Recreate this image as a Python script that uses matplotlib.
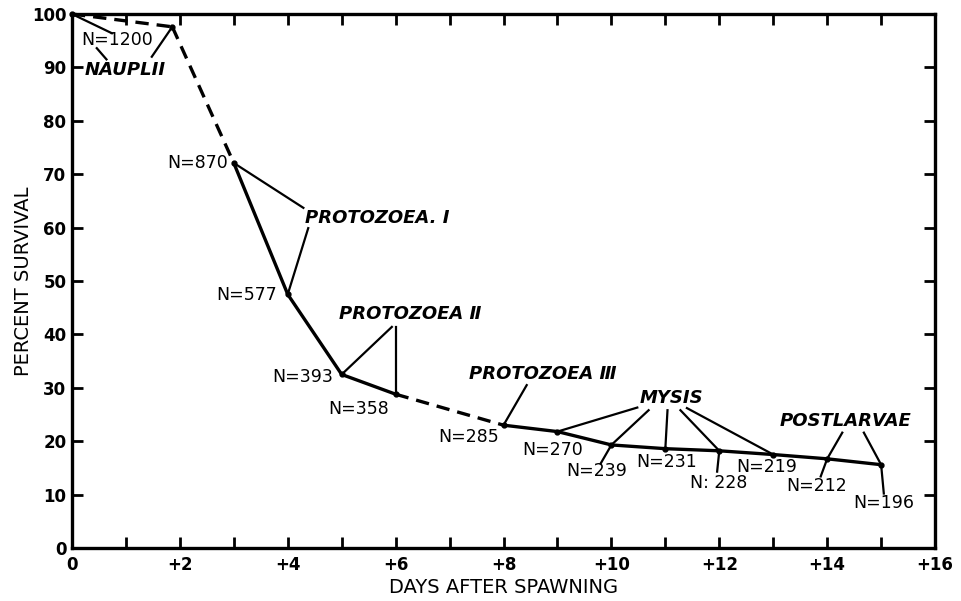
"""Percent survival of shrimp larvae by days after spawning, with stage labels."""
import matplotlib

matplotlib.use("Agg")
import matplotlib.pyplot as plt

# survival curve
days = [0, 1.86, 3, 4, 5, 6, 8, 9, 10, 11, 12, 13, 14, 15]
survival = [100, 97.6, 72.1, 47.5, 32.5, 28.8, 23.0, 21.8, 19.3, 18.6, 18.2, 17.5, 16.7, 15.6]
n_labels = ["N=1200", None, "N=870", "N=577", "N=393", "N=358", "N=285", "N=270",
            "N=239", "N=231", "N: 228", "N=219", "N=212", "N=196"]
stages = ["NAUPLII", "PROTOZOEA. \u2160", "PROTOZOEA \u2161", "PROTOZOEA \u2162",
          "MYSIS", "POSTLARVAE"]
x_ticks = list(range(0, 17))
x_ticklabels = ["0" if d == 0 else (f"+{d}" if d % 2 == 0 else "") for d in x_ticks]
y_ticks = list(range(0, 101, 10))

# segments drawn dashed (interval index i joins point i and i+1)
DASHED = {0, 1, 5}

# label placement: (x, y, ha) in data units
N_POS = [(0.84, 95.2, "center"), None, (2.9, 72.1, "right"), (3.8, 47.4, "right"),
         (4.85, 32.1, "right"), (5.31, 26.1, "center"), (7.35, 20.7, "center"),
         (8.91, 18.4, "center"), (9.72, 14.5, "center"), (11.02, 16.1, "center"),
         (11.98, 12.1, "center"), (12.87, 15.1, "center"), (13.8, 11.7, "center"),
         (15.05, 8.5, "center")]
STAGE_POS = [(0.98, 89.6), (5.66, 61.8), (6.27, 43.9), (8.72, 32.6), (11.12, 28.0),
             (14.34, 23.8)]

# leader lines: start (x, y) -> point index, optionally continuing to an end (x, y)
LEADERS = [
    ((0.74, 96.4), 0, None),
    ((1.48, 92.0), 1, None),
    ((4.29, 63.7), 2, None),
    ((4.38, 59.9), 3, None),
    ((5.93, 41.4), 4, None),
    ((6.0, 41.4), 5, None),
    ((8.43, 30.5), 6, None),
    ((10.48, 26.3), 7, None),
    ((10.69, 25.8), 8, (9.8, 15.8)),
    ((11.04, 25.8), 9, None),
    ((11.28, 25.8), 10, (11.96, 14.3)),
    ((11.4, 26.2), 11, None),
    ((14.28, 21.6), 12, (13.88, 13.4)),
    ((14.68, 21.6), 13, (15.05, 10.2)),
]
FREE_LINES = [((0.46, 93.6), (0.64, 91.5))]

plt.rcParams["font.family"] = ["DejaVu Sans"]

fig = plt.figure(figsize=(9.62, 6.01), dpi=100)
ax = fig.add_axes([0.0748, 0.0882, 0.8972, 0.8885])

for i in range(len(days) - 1):
    ls = (0, (4, 2.4)) if i in DASHED else "-"
    ax.plot(days[i:i + 2], survival[i:i + 2], color="black", lw=2.4, ls=ls,
            solid_capstyle="round", clip_on=False)
ax.plot(days, survival, "o", color="black", ms=3.5, clip_on=False)

for start, idx, end in LEADERS:
    xs = [start[0], days[idx]]
    ys = [start[1], survival[idx]]
    if end is not None:
        xs.append(end[0])
        ys.append(end[1])
    ax.plot(xs, ys, color="black", lw=1.6, clip_on=False)
for (x0, y0), (x1, y1) in FREE_LINES:
    ax.plot([x0, x1], [y0, y1], color="black", lw=1.6)

for lab, pos in zip(n_labels, N_POS):
    if lab is None:
        continue
    x, y, ha = pos
    ax.text(x, y, lab, ha=ha, va="center", fontsize=12.5, color="black")

for lab, (x, y) in zip(stages, STAGE_POS):
    ax.text(x, y, lab, ha="center", va="center", fontsize=13, fontweight="bold",
            style="italic", color="black")

ax.set_xlim(0, 16)
ax.set_ylim(0, 100)
ax.set_xticks(x_ticks)
ax.set_xticklabels(x_ticklabels)
ax.set_yticks(y_ticks)
ax.tick_params(direction="in", length=8, width=2, top=True, right=True,
               labelsize=12, pad=4)
ax.tick_params(axis="x", pad=6)
for lab in ax.get_xticklabels() + ax.get_yticklabels():
    lab.set_fontweight("bold")
for sp in ax.spines.values():
    sp.set_linewidth(2.4)

ax.set_xlabel("DAYS AFTER SPAWNING", fontsize=14, labelpad=3)
ax.set_ylabel("PERCENT SURVIVAL", fontsize=14, labelpad=-1)

fig.savefig("out.png", dpi=100)
